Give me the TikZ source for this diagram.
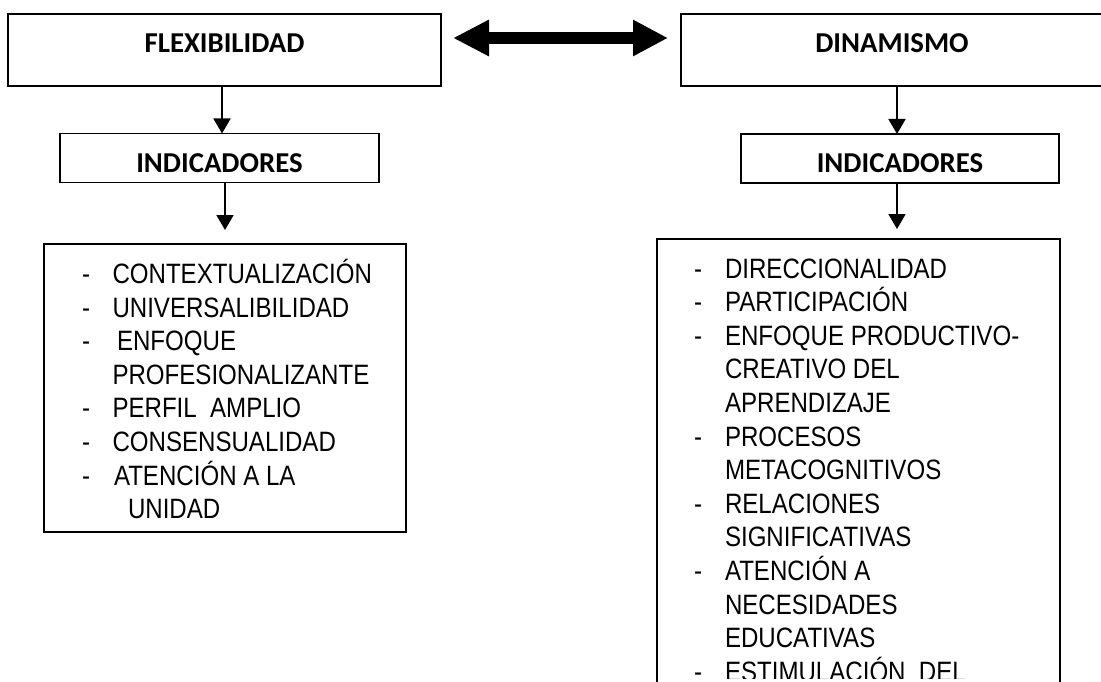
\documentclass[tikz,border=0pt]{standalone}
\usepackage{fontspec}
\usetikzlibrary{arrows.meta}
\newfontfamily\hdfont{Carlito}
\newfontfamily\lsfont{Liberation Sans}[FakeStretch=0.86]
\tikzset{
  box/.style={draw=black, line width=1.8pt, rectangle, inner sep=0pt, outer sep=0pt},
  head/.style={box, font=\hdfont\bfseries\fontsize{28.8}{32}\selectfont},
  lt/.style={inner sep=0pt, outer sep=0pt, anchor=base west, font=\lsfont\fontsize{28}{33.6}\selectfont},
  arr/.style={line width=1.8pt, -{Triangle[length=15pt,width=17pt]}},
  dbl/.style={line width=12pt, {Triangle[length=36pt,width=34pt]}-{Triangle[length=35pt,width=34pt]}},
}
\begin{document}
\begin{tikzpicture}[x=1pt,y=-1pt]
\useasboundingbox (0,0) rectangle (1101,682);
\fill[white] (0,0) rectangle (1101,682);
\clip (0,0) rectangle (1101,682);

% top boxes
\node[head, minimum width=433pt, minimum height=72pt, text height=15pt, text depth=10pt] (F) at (224.5,50) {FLEXIBILIDAD};
\node[head, minimum width=422pt, minimum height=72pt, text height=15pt, text depth=10pt] (D) at (892,50) {DINAMISMO};

% indicadores boxes
\node[head, minimum width=319pt, minimum height=49pt, text height=30pt, text depth=0pt] (I1) at (219.5,158) {INDICADORES};
\node[head, minimum width=318pt, minimum height=49pt, text height=29pt, text depth=0pt] (I2) at (900,158.5) {INDICADORES};

% list boxes
\node[box, minimum width=362pt, minimum height=288pt] (L) at (225,388) {};
\node[box, minimum width=403pt, minimum height=600pt] (R) at (858.5,539) {};

% double arrow
\draw[dbl, shorten <=12pt, shorten >=13pt] ([yshift=12pt]F.east) -- ([yshift=12pt]D.west);

% vertical arrows
\coordinate (f1) at ([xshift=-2.5pt]F.south);
\draw[arr] (f1) -- (f1 |- I1.north);
\coordinate (f2) at ([xshift=5.5pt]I1.south);
\draw[arr, shorten >=14pt] (f2) -- (f2 |- L.north);
\coordinate (d1) at ([xshift=5pt]D.south);
\draw[arr] (d1) -- (d1 |- I2.north);
\coordinate (d2) at ([xshift=-3pt]I2.south);
\draw[arr, shorten >=10pt] (d2) -- (d2 |- R.north);

% left list
\node[lt] (ad0) at (82,283.5) {-};
\node[lt] (a0) at (112.5,283.5) {CONTEXTUALIZACIÓN};
\node[lt] (ad1) at (82,317.1) {-};
\node[lt] (a1) at (112.5,317.1) {UNIVERSALIBILIDAD};
\node[lt] (ad2) at (82,350.7) {-};
\node[lt] (a2) at (117,350.7) {ENFOQUE};
\node[lt] (a3) at (112.5,384.3) {PROFESIONALIZANTE};
\node[lt] (ad4) at (82,417.9) {-};
\node[lt] (a4) at (112.5,417.9) {PERFIL\ \ AMPLIO};
\node[lt] (ad5) at (82,451.5) {-};
\node[lt] (a5) at (112.5,451.5) {CONSENSUALIDAD};
\node[lt] (ad6) at (82,485.1) {-};
\node[lt] (a6) at (114,485.1) {ATENCIÓN A LA};
\node[lt] (a7) at (128,518.7) {UNIDAD};

% right list
\foreach \d/\t [count=\i from 0] in {1/DIRECCIONALIDAD, 1/PARTICIPACIÓN, 1/ENFOQUE PRODUCTIVO-, 0/CREATIVO DEL, 0/APRENDIZAJE, 1/PROCESOS, 0/METACOGNITIVOS, 1/RELACIONES, 0/SIGNIFICATIVAS, 1/ATENCIÓN A, 0/NECESIDADES, 0/EDUCATIVAS}{
  \node[lt] (b\i) at (725,{278+\i*33.6}) {\t};
  \ifnum\d=1 \node[lt] (bd\i) at (694,{278+\i*33.6}) {-};\fi
}
\begin{scope}
  \clip (660,640) rectangle (1055,678);
  \node[lt] (b12) at (725,681.2) {ESTIMULACIÓN\ \ DEL};
  \node[lt] (bd12) at (694,681.2) {-};
\end{scope}
\end{tikzpicture}
\end{document}
